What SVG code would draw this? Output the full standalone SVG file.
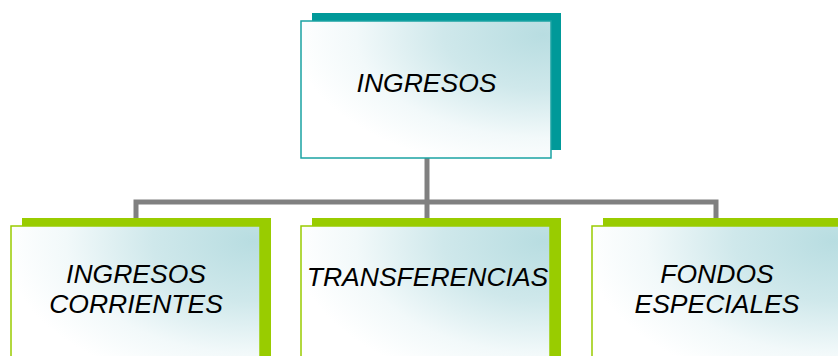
<svg xmlns="http://www.w3.org/2000/svg" width="838" height="356" viewBox="0 0 838 356">
<defs>
<radialGradient id="fill" cx="0.97" cy="0.1" r="1.0" fx="0.97" fy="0.1">
<stop offset="0" stop-color="#b8dde1"/>
<stop offset="0.4" stop-color="#cfe8eb"/>
<stop offset="0.75" stop-color="#f2f9fa"/>
<stop offset="1" stop-color="#ffffff"/>
</radialGradient>
<style>
.conn{stroke:#808080;stroke-width:5;fill:none}
.shT{fill:#009999}
.shG{fill:#99cc00}
.frT{fill:url(#fill);stroke:#1aa3a3;stroke-width:1.5}
.frG{fill:url(#fill);stroke:#99cc00;stroke-width:1.5}
.lbl{font-family:"Liberation Sans",Arial,sans-serif;font-style:italic;font-size:26.5px;fill:#000;text-anchor:middle}
</style>
</defs>
<rect width="838" height="356" fill="#ffffff"/>
<g id="connectors">
<path class="conn" d="M427 158 V202"/>
<path class="conn" d="M136 218 V202 H716 V218"/>
<path class="conn" d="M427 202 V218"/>
</g>
<g id="ingresos">
<rect class="shT" x="312" y="13" width="249" height="137"/>
<rect class="frT" x="301" y="21" width="250" height="137"/>
<text class="lbl" x="426.5" y="92">INGRESOS</text>
</g>
<g id="ingresos-corrientes">
<rect class="shG" x="22" y="218" width="249" height="150"/>
<rect class="frG" x="11" y="226" width="249" height="150"/>
<text class="lbl" x="136" y="283">INGRESOS</text>
<text class="lbl" x="136" y="313">CORRIENTES</text>
</g>
<g id="transferencias">
<rect class="shG" x="312" y="218" width="249" height="150"/>
<rect class="frG" x="301" y="226" width="249" height="150"/>
<text class="lbl" x="427.5" y="286">TRANSFERENCIAS</text>
</g>
<g id="fondos-especiales">
<rect class="shG" x="603" y="218" width="249" height="150"/>
<rect class="frG" x="592" y="226" width="249" height="150"/>
<text class="lbl" x="717" y="283">FONDOS</text>
<text class="lbl" x="717" y="313">ESPECIALES</text>
</g>
</svg>
